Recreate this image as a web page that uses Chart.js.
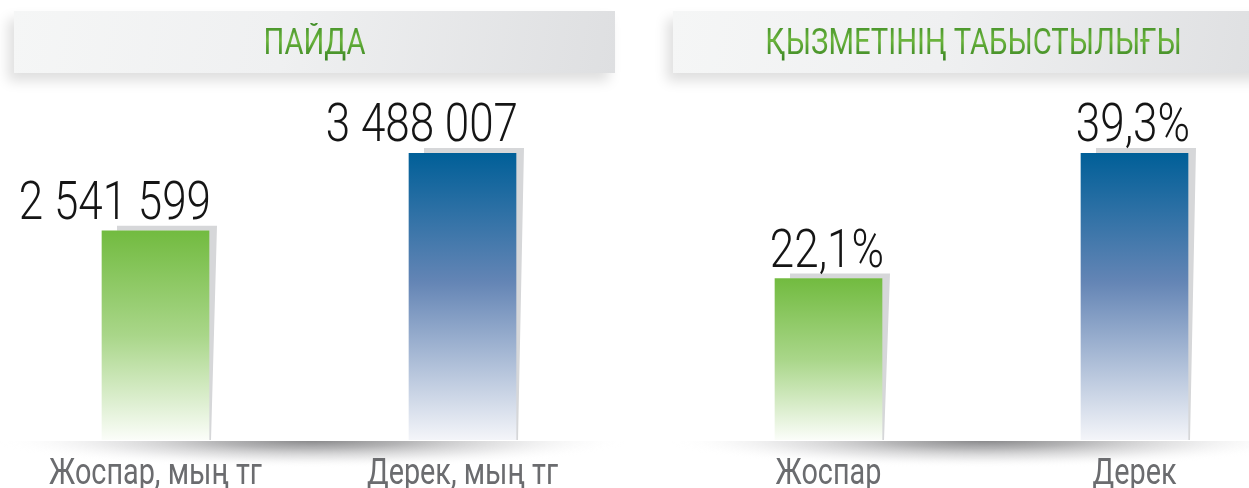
<!DOCTYPE html>
<html>
<head>
<meta charset="utf-8">
<script src="https://cdn.jsdelivr.net/npm/chart.js@4"></script>
<style>
  html, body { margin: 0; padding: 0; background: #fff; overflow: hidden; width: 1249px; height: 488px; }
  .panel { position: absolute; top: 0; width: 624px; height: 488px; }
  .banner {
    position: absolute; top: 11px; height: 62px; width: 601px;
    background: linear-gradient(100deg, #f5f6f6 0%, #eff0f1 45%, #dedfe1 100%);
    box-shadow: -6px 8px 12px rgba(0, 0, 0, 0.13);
    display: flex; align-items: center; justify-content: center;
  }
  .banner span {
    font-family: Roboto, "Liberation Sans", sans-serif; font-size: 37px; font-weight: 400;
    display: inline-block; transform: scaleX(0.79); white-space: nowrap;
    background: linear-gradient(180deg, #3f8c26 0%, #6cb53e 45%, #5aa533 60%, #3b8424 100%);
    -webkit-background-clip: text; background-clip: text; color: transparent;
    line-height: 38px;
  }
  canvas { position: absolute; top: 0; left: 0; }
</style>
</head>
<body>
<div class="panel" style="left:0">
  <div class="banner" style="left:14px"><span>ПАЙДА</span></div>
  <canvas id="profitChart" width="624" height="488"></canvas>
</div>
<div class="panel" style="left:672px">
  <div class="banner" style="left:1px"><span>ҚЫЗМЕТІНІҢ ТАБЫСТЫЛЫҒЫ</span></div>
  <canvas id="rateChart" width="624" height="488"></canvas>
</div>
<script>
const profitLabels = ["Жоспар, мың тг", "Дерек, мың тг"];
const profitValues = [2541599, 3488007];
const rateLabels = ["Жоспар", "Дерек"];
const rateValues = [22.1, 39.3];

const fmtThousands = (v) => String(v).replace(/\B(?=(\d{3})+(?!\d))/g, " ");
const fmtPercent = (v) => v.toFixed(1).replace(".", ",") + "%";

const barStops = [
    [[0, "#72bb40"], [0.5, "#a9d689"], [1, "#fbfdf9"]],
    [[0, "#005f98"], [0.45, "#6485b5"], [1, "#f4f5f9"]]
];

const barFill = (ctx) => {
    const chart = ctx.chart;
    if (!chart.chartArea) return "#888";
    const y = chart.scales.y;
    const top = y.getPixelForValue(ctx.raw);
    const bottom = y.getPixelForValue(0);
    const g = chart.ctx.createLinearGradient(0, top, 0, bottom);
    barStops[ctx.dataIndex].forEach(([o, c]) => g.addColorStop(o, c));
    return g;
};

const decorPlugin = {
    id: "decor",
    beforeDatasetsDraw(chart) {
        const ctx = chart.ctx;
        const base = chart.scales.y.getPixelForValue(0);
        // grey lens under the baseline
        ctx.save();
        const cx = 312, w = 318, h = 28;
        ctx.translate(cx, base);
        ctx.scale(w / h, 1);
        const rg = ctx.createRadialGradient(0, 0, 0, 0, 0, h);
        rg.addColorStop(0, "rgba(125,125,127,0.95)");
        rg.addColorStop(0.3, "rgba(155,155,157,0.75)");
        rg.addColorStop(0.65, "rgba(200,200,202,0.4)");
        rg.addColorStop(1, "rgba(255,255,255,0)");
        ctx.fillStyle = rg;
        ctx.fillRect(-h, 1, 2 * h, h);
        ctx.restore();
        // bar shadows
        const meta = chart.getDatasetMeta(0);
        ctx.save();
        ctx.fillStyle = "#d6d7d9";
        meta.data.forEach((bar) => {
            const l = bar.x - bar.width / 2, r = bar.x + bar.width / 2;
            ctx.beginPath();
            ctx.moveTo(l + 15, bar.y - 5);
            ctx.lineTo(r + 8, bar.y - 5);
            ctx.lineTo(r + 2, bar.base);
            ctx.lineTo(r, bar.base);
            ctx.lineTo(r, bar.y);
            ctx.lineTo(l + 15, bar.y);
            ctx.closePath();
            ctx.fill();
        });
        ctx.restore();
    },
    afterDatasetsDraw(chart, args, opts) {
        const ctx = chart.ctx;
        const meta = chart.getDatasetMeta(0);
        const xs = chart.scales.x;
        const values = chart.data.datasets[0].data;
        meta.data.forEach((bar, i) => {
            const r = bar.x + bar.width / 2;
            ctx.save();
            ctx.translate(r + 2, bar.y - 12);
            ctx.scale(0.83, 1);
            ctx.font = "300 53px Roboto";
            ctx.fillStyle = "#151515";
            ctx.textAlign = "right";
            ctx.fillText(opts.format(values[i]), 0, 0);
            ctx.restore();

            ctx.save();
            ctx.translate(xs.getPixelForValue(i), 484);
            ctx.scale(0.8, 1);
            ctx.font = "400 36px Roboto";
            ctx.fillStyle = "#6b6c6f";
            ctx.textAlign = "center";
            ctx.fillText(chart.data.labels[i], 0, 0);
            ctx.restore();
        });
    }
};

const makeChart = (id, labels, values, format, padLeft, padRight) => {
    new Chart(document.getElementById(id), {
        type: "bar",
        data: {
            labels: labels,
            datasets: [{
                data: values,
                backgroundColor: barFill,
                borderWidth: 0,
                barThickness: 107
            }]
        },
        options: {
            responsive: false,
            animation: false,
            layout: { padding: { top: 153, bottom: 48, left: padLeft, right: padRight } },
            plugins: {
                legend: { display: false },
                tooltip: { enabled: false },
                decor: { format: format }
            },
            scales: {
                x: { display: false, offset: true, grid: { display: false } },
                y: { display: false, min: 0, max: Math.max(...values) }
            }
        },
        plugins: [decorPlugin]
    });
};

makeChart("profitChart", profitLabels, profitValues, fmtThousands, 2, 8);
makeChart("rateChart", rateLabels, rateValues, fmtPercent, 3.5, 8.5);
</script>
</body>
</html>
